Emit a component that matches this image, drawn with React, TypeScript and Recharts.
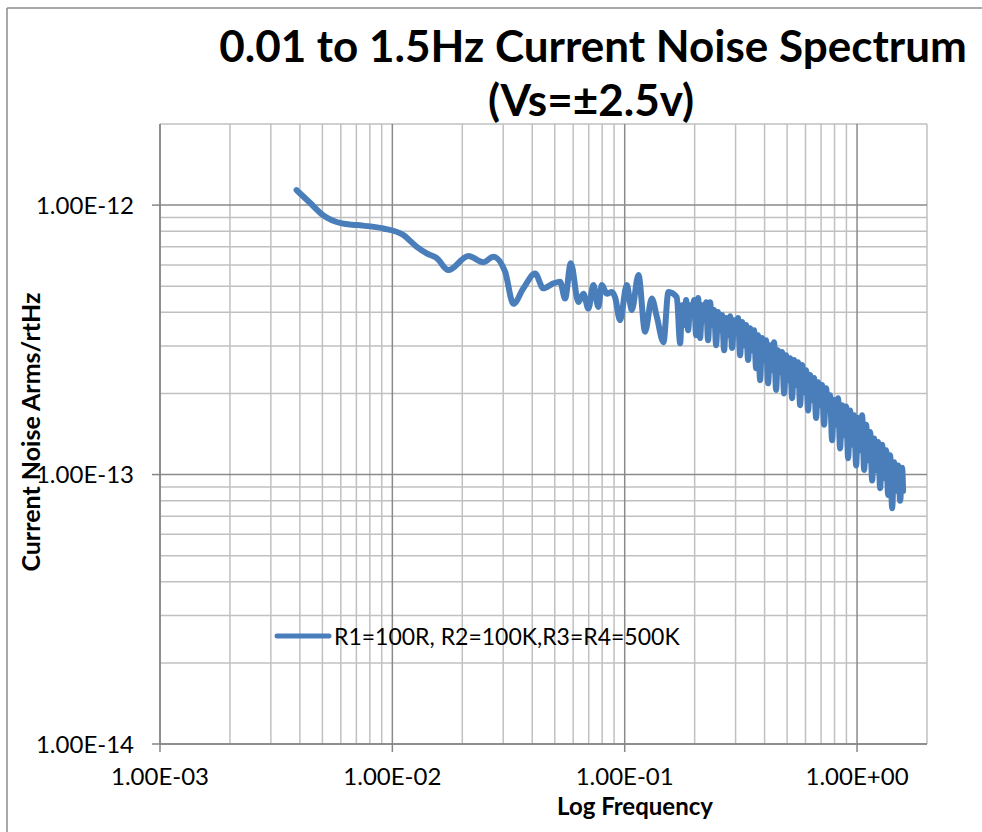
import React from 'react';
import { LineChart, Line, XAxis, YAxis, CartesianGrid, Legend } from 'recharts';

const titleLines = ['0.01 to 1.5Hz Current Noise Spectrum', '(Vs=\u00b12.5v)'];
const xAxisTitle = 'Log Frequency';
const yAxisTitle = 'Current Noise Arms/rtHz';
const seriesName = 'R1=100R, R2=100K,R3=R4=500K';

const xMajorTicks = [0.001, 0.01, 0.1, 1];
const yMajorTicks = [1e-14, 1e-13, 1e-12];
const xMinorTicks = [
  0.002, 0.003, 0.004, 0.005, 0.006, 0.007, 0.008, 0.009,
  0.02, 0.03, 0.04, 0.05, 0.06, 0.07, 0.08, 0.09,
  0.2, 0.3, 0.4, 0.5, 0.6, 0.7, 0.8, 0.9, 2,
];
const yMinorTicks = [
  2e-14, 3e-14, 4e-14, 5e-14, 6e-14, 7e-14, 8e-14, 9e-14,
  2e-13, 3e-13, 4e-13, 5e-13, 6e-13, 7e-13, 8e-13, 9e-13, 2e-12,
];
const xDomain = [0.001, 2];
const yDomain = [1e-14, 2e-12];

const frequencyHz = [
  0.00387, 0.00442, 0.00503, 0.00606, 0.00703, 0.00915, 0.01115, 0.01274, 0.01406, 0.01553,
  0.01742, 0.02124, 0.02465, 0.02721, 0.03056, 0.03319, 0.03664, 0.04114, 0.04467, 0.04933,
  0.05272, 0.05538, 0.05861, 0.0632, 0.0664, 0.0698, 0.0733, 0.077, 0.0797, 0.0837,
  0.088, 0.0909, 0.0955, 0.1021, 0.1073, 0.1146, 0.1224, 0.1308, 0.1375, 0.1468,
  0.1542, 0.1676,
  0.1732, 0.1767, 0.1802, 0.1838, 0.1875, 0.1912, 0.195, 0.1989, 0.2029, 0.207,
  0.2111, 0.2153, 0.2196, 0.224, 0.2285, 0.2331, 0.2378, 0.2425, 0.2474, 0.2523,
  0.2574, 0.2625, 0.2678, 0.2732, 0.2786, 0.2842, 0.2899, 0.2957, 0.3016, 0.3076,
  0.3138, 0.3201, 0.3265, 0.3331, 0.3397, 0.3465, 0.3535, 0.3605, 0.3677, 0.3751,
  0.3826, 0.3903, 0.3981, 0.406, 0.4142, 0.4225, 0.4309, 0.4395, 0.4483, 0.4573,
  0.4665, 0.4758, 0.4853, 0.495, 0.5049, 0.515, 0.5253, 0.5359, 0.5466, 0.5575,
  0.5687, 0.5801, 0.5917, 0.6035, 0.6156, 0.6279, 0.6405, 0.6533, 0.6663, 0.6797,
  0.6933, 0.7072, 0.7213, 0.7357, 0.7505, 0.7655, 0.7808, 0.7964, 0.8123, 0.8286,
  0.8452, 0.8625, 0.8798, 0.8974, 0.9153, 0.9336, 0.9523, 0.9714, 0.9908, 1.0106,
  1.0309, 1.0518, 1.0728, 1.0943, 1.1162, 1.1385, 1.1613, 1.1845, 1.2082, 1.2324,
  1.257, 1.2823, 1.3079, 1.3341, 1.3608, 1.388, 1.4158, 1.4441, 1.473, 1.5024,
  1.5325, 1.5632, 1.578,
];

const noiseArms = [
  11.37e-13, 10.2e-13, 9.18e-13, 8.55e-13, 8.43e-13, 8.19e-13, 7.74e-13, 7.0e-13, 6.62e-13, 6.36e-13,
  5.74e-13, 6.47e-13, 6.14e-13, 6.43e-13, 5.66e-13, 4.3e-13, 4.91e-13, 5.57e-13, 4.91e-13, 5.12e-13,
  5.19e-13, 4.5e-13, 6.09e-13, 4.37e-13, 4.69e-13, 4.13e-13, 5.05e-13, 4.19e-13, 5.05e-13, 4.69e-13,
  4.76e-13, 4.55e-13, 3.74e-13, 5.05e-13, 4.08e-13, 5.5e-13, 3.39e-13, 4.5e-13, 3.85e-13, 3.1e-13,
  4.76e-13, 4.55e-13,
  3.07e-13, 4.25e-13, 3.59e-13, 4.44e-13, 3.43e-13, 4.25e-13, 3.91e-13, 4.44e-13, 3.29e-13, 4.52e-13,
  3.21e-13, 4.25e-13, 3.74e-13, 4.36e-13, 3.15e-13, 4.36e-13, 3.59e-13, 4.08e-13, 3.02e-13, 4.01e-13,
  3.43e-13, 3.91e-13, 2.89e-13, 3.81e-13, 3.29e-13, 3.87e-13, 2.95e-13, 3.74e-13, 3.43e-13, 3.81e-13,
  2.77e-13, 3.68e-13, 3.02e-13, 3.59e-13, 2.66e-13, 3.49e-13, 2.89e-13, 3.43e-13, 2.48e-13, 3.29e-13,
  2.24e-13, 3.21e-13, 2.66e-13, 3.15e-13, 2.18e-13, 3.02e-13, 2.44e-13, 3.1e-13, 2.06e-13, 2.89e-13,
  2.4e-13, 2.85e-13, 2.0e-13, 2.77e-13, 2.24e-13, 2.7e-13, 1.92e-13, 2.66e-13, 2.15e-13, 2.61e-13,
  1.81e-13, 2.55e-13, 2.02e-13, 2.44e-13, 1.73e-13, 2.34e-13, 1.89e-13, 2.28e-13, 1.62e-13, 2.2e-13,
  1.81e-13, 2.15e-13, 1.53e-13, 2.09e-13, 1.73e-13, 1.97e-13, 1.34e-13, 1.89e-13, 1.53e-13, 1.92e-13,
  1.25e-13, 1.81e-13, 1.4e-13, 1.79e-13, 1.15e-13, 1.73e-13, 1.29e-13, 1.66e-13, 1.08e-13, 1.62e-13,
  1.23e-13, 1.66e-13, 1.04e-13, 1.53e-13, 1.13e-13, 1.44e-13, 0.95e-13, 1.36e-13, 1.04e-13, 1.32e-13,
  0.89e-13, 1.29e-13, 0.97e-13, 1.23e-13, 0.84e-13, 1.18e-13, 0.75e-13, 1.11e-13, 0.87e-13, 1.08e-13,
  0.8e-13, 1.06e-13, 0.87e-13,
];

const rows = frequencyHz.map((f, i) => ({ f, noise: noiseArms[i] }));

const FONT = 'Lato, "Open Sans", sans-serif';
const LINE_COLOR = '#4a7ebb';
const MAJOR_GRID = '#8a8a8a';
const MINOR_GRID = '#c0c0c0';

const formatExp = (v: number) => {
  const [m, e] = Number(v).toExponential(2).split('e');
  const sign = e[0] === '-' ? '-' : '+';
  const digits = e.replace(/^[+-]/, '').padStart(2, '0');
  return `${m}E${sign}${digits}`;
};

const LegendContent = (props: any) => {
  const payload = props.payload || [];
  return (
    <div style={{ display: 'flex', alignItems: 'center', height: 28 }}>
      {payload.map((p: any) => (
        <div key={p.value} style={{ display: 'flex', alignItems: 'center' }}>
          <svg width={60} height={10} style={{ display: 'block' }}>
            <line x1={3} y1={5} x2={55} y2={5} stroke={p.color} strokeWidth={5} strokeLinecap="round" />
          </svg>
          <span style={{ fontFamily: FONT, fontSize: 23, color: '#000', whiteSpace: 'nowrap', lineHeight: '28px' }}>
            {p.value}
          </span>
        </div>
      ))}
    </div>
  );
};

export default function App() {
  return (
    <div style={{ position: 'absolute', left: 0, top: 0, width: 982, height: 832, background: '#fff', overflow: 'hidden' }}>
      <LineChart
        width={982}
        height={832}
        data={rows}
        margin={{ top: 124, right: 55, bottom: 0, left: 0 }}
      >
        <CartesianGrid
          stroke={MINOR_GRID}
          strokeWidth={1.5}
          verticalValues={xMinorTicks}
          horizontalValues={yMinorTicks}
        />
        <CartesianGrid
          stroke={MAJOR_GRID}
          strokeWidth={1.5}
          verticalValues={xMajorTicks}
          horizontalValues={yMajorTicks}
        />
        <XAxis
          dataKey="f"
          type="number"
          scale="log"
          domain={xDomain}
          allowDataOverflow
          ticks={xMajorTicks}
          interval={0}
          tickFormatter={formatExp}
          height={88}
          tickSize={8}
          tickMargin={16}
          tick={{ fontFamily: FONT, fontSize: 24, fill: '#000' }}
          axisLine={{ stroke: '#868686', strokeWidth: 1.5 }}
          tickLine={{ stroke: '#868686', strokeWidth: 1.5 }}
        />
        <YAxis
          type="number"
          scale="log"
          domain={yDomain}
          allowDataOverflow
          ticks={yMajorTicks}
          interval={0}
          tickFormatter={formatExp}
          width={160}
          tickSize={8}
          tickMargin={18}
          tick={{ fontFamily: FONT, fontSize: 24, fill: '#000' }}
          axisLine={{ stroke: '#868686', strokeWidth: 1.5 }}
          tickLine={{ stroke: '#868686', strokeWidth: 1.5 }}
        />
        <Legend
          layout="horizontal"
          verticalAlign="middle"
          align="center"
          wrapperStyle={{ left: 274, top: 622, width: 'auto' }}
          content={<LegendContent />}
        />
        <Line
          type="monotone"
          dataKey="noise"
          name={seriesName}
          stroke={LINE_COLOR}
          strokeWidth={6}
          dot={false}
          activeDot={false}
          isAnimationActive={false}
          strokeLinejoin="round"
          strokeLinecap="round"
        />
      </LineChart>
      <svg
        width={982}
        height={832}
        style={{ position: 'absolute', left: 0, top: 0, pointerEvents: 'none' }}
      >
        <line x1={7} y1={8} x2={982} y2={8} stroke="#8c8c8c" strokeWidth={1.5} />
        <line x1={7} y1={8} x2={7} y2={832} stroke="#8c8c8c" strokeWidth={1.5} />
        <text x={593} y={62} textAnchor="middle" fontFamily={FONT} fontWeight={700} fontSize={44} fill="#000">
          {titleLines[0]}
        </text>
        <text x={591} y={116} textAnchor="middle" fontFamily={FONT} fontWeight={700} fontSize={44} fill="#000">
          {titleLines[1]}
        </text>
        <text x={635} y={815} textAnchor="middle" fontFamily={FONT} fontWeight={700} fontSize={24} fill="#000">
          {xAxisTitle}
        </text>
        <text
          transform="rotate(-90)"
          x={-432}
          y={40}
          textAnchor="middle"
          fontFamily={FONT}
          fontWeight={700}
          fontSize={25}
          fill="#000"
        >
          {yAxisTitle}
        </text>
      </svg>
    </div>
  );
}
